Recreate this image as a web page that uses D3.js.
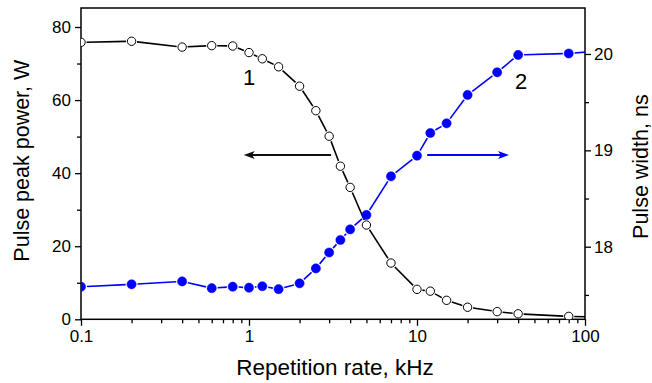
<!DOCTYPE html>
<html>
<head>
<meta charset="utf-8">
<script src="https://cdn.jsdelivr.net/npm/d3@7"></script>
<style>
  html, body { margin: 0; padding: 0; background: #fff; }
  svg { display: block; }
  text { font-family: Arial, "Liberation Sans", sans-serif; fill: #000; }
</style>
</head>
<body>
<script>
// ---- Data ----
const rate = [0.1, 0.2, 0.4, 0.6, 0.8, 1, 1.2, 1.5, 2, 2.5, 3, 3.5, 4, 5, 7, 10, 12, 15, 20, 30, 40, 80, 120];
const peakPower = [75.8, 76.1, 74.5, 74.9, 74.8, 73.0, 71.3, 69.1, 63.8, 57.1, 50.1, 41.9, 36.1, 25.8, 15.4, 8.2, 7.7, 5.2, 3.3, 2.1, 1.5, 0.8, 0.6];
const pulseWidth = [17.585, 17.61, 17.64, 17.57, 17.585, 17.575, 17.59, 17.56, 17.62, 17.775, 17.94, 18.07, 18.18, 18.33, 18.73, 18.945, 19.18, 19.28, 19.575, 19.81, 19.99, 20.005, 20.03];

const xTickValues = [0.1, 1, 10, 100];
const xTickLabels = ["0.1", "1", "10", "100"];
const yLeftTicks = [0, 20, 40, 60, 80];
const yLeftMinor = [10, 30, 50, 70];
const yRightTicks = [18, 19, 20];
const yRightLabels = ["18", "19", "20"];
const yRightMinor = [17.5, 18.5, 19.5];

const xTitle = "Repetition rate, kHz";
const yLeftTitle = "Pulse peak power, W";
const yRightTitle = "Pulse width, ns";

// ---- Layout ----
const W = 652, H = 383;
const L = 81, R = 585, T = 8, B = 319.3;

const svg = d3.select("body").append("svg").attr("width", W).attr("height", H);

const x = d3.scaleLog().domain([0.1, 100]).range([L, R]);
const yL = d3.scaleLinear().domain([0, 85.2]).range([B, T]);
const yR = d3.scaleLinear().domain([17.247, 20.477]).range([B, T]);

const font = 'Arial, "Liberation Sans", sans-serif';

// clip
svg.append("defs").append("clipPath").attr("id", "clip")
  .append("rect").attr("x", L).attr("y", T).attr("width", R - L).attr("height", B - T);

// ---- Axes ----
const minorX = [];
[0.1, 1, 10].forEach(d => { for (let k = 2; k <= 9; k++) minorX.push(d * k); });

svg.append("g").attr("transform", `translate(0,${B})`)
  .call(d3.axisBottom(x).tickValues(xTickValues).tickFormat((d, i) => xTickLabels[i]).tickSize(6.5).tickPadding(4));
svg.append("g").attr("transform", `translate(0,${B})`)
  .call(d3.axisBottom(x).tickValues(minorX).tickFormat("").tickSize(4));

svg.append("g").attr("transform", `translate(${L},0)`)
  .call(d3.axisLeft(yL).tickValues(yLeftTicks).tickSize(6).tickPadding(4));
svg.append("g").attr("transform", `translate(${L},0)`)
  .call(d3.axisLeft(yL).tickValues(yLeftMinor).tickFormat("").tickSize(4));

svg.append("g").attr("transform", `translate(${R},0)`)
  .call(d3.axisRight(yR).tickValues(yRightTicks).tickFormat((d, i) => yRightLabels[i]).tickSize(6).tickPadding(3));
svg.append("g").attr("transform", `translate(${R},0)`)
  .call(d3.axisRight(yR).tickValues(yRightMinor).tickFormat("").tickSize(4));

svg.selectAll(".domain").remove();
svg.selectAll(".tick line").attr("stroke", "#000").attr("stroke-width", 1.3);
svg.selectAll(".tick text").attr("font-family", font).attr("font-size", 17).attr("fill", "#000");

// frame
svg.append("rect").attr("x", L).attr("y", T).attr("width", R - L).attr("height", B - T)
  .attr("fill", "none").attr("stroke", "#000").attr("stroke-width", 1.5);

// ---- Series ----
const plot = svg.append("g").attr("clip-path", "url(#clip)");

function drawSeries(ys, yScale, color, r, filled) {
  const pts = rate.map((d, i) => [x(d), yScale(ys[i])]);
  const gap = r + 1.3;
  const segs = [];
  for (let i = 0; i < pts.length - 1; i++) {
    const [x1, y1] = pts[i], [x2, y2] = pts[i + 1];
    const dx = x2 - x1, dy = y2 - y1, len = Math.hypot(dx, dy);
    if (len <= 2 * gap) continue;
    const ux = dx / len, uy = dy / len;
    segs.push([x1 + ux * gap, y1 + uy * gap, x2 - ux * gap, y2 - uy * gap]);
  }
  plot.append("g").selectAll("line").data(segs).join("line")
    .attr("x1", d => d[0]).attr("y1", d => d[1]).attr("x2", d => d[2]).attr("y2", d => d[3])
    .attr("stroke", color).attr("stroke-width", 1.6);
  plot.append("g").selectAll("circle").data(pts).join("circle")
    .attr("cx", d => d[0]).attr("cy", d => d[1]).attr("r", r)
    .attr("fill", filled ? color : "#fff")
    .attr("stroke", color).attr("stroke-width", filled ? 0.5 : 1);
}
drawSeries(peakPower, yL, "#000", 4.2, false);
drawSeries(pulseWidth, yR, "#0000ff", 4.6, true);

// ---- Annotations ----
svg.append("text").attr("x", x(1.0)).attr("y", yL(64)).attr("text-anchor", "middle")
  .attr("font-size", 22).text("1");
svg.append("text").attr("x", x(41.6)).attr("y", yL(63)).attr("text-anchor", "middle")
  .attr("font-size", 22).text("2");

function arrow(xFrom, xTo, yv, color) {
  const y0 = yL(yv), a = x(xFrom), b = x(xTo);
  const dir = Math.sign(b - a);
  const headL = 11, headW = 4;
  svg.append("line").attr("x1", a).attr("y1", y0).attr("x2", b - dir * headL * 0.6).attr("y2", y0)
    .attr("stroke", color).attr("stroke-width", 2);
  svg.append("path")
    .attr("d", `M${b},${y0} L${b - dir * headL},${y0 - headW} L${b - dir * headL * 0.75},${y0} L${b - dir * headL},${y0 + headW} Z`)
    .attr("fill", color);
}
arrow(3.08, 0.93, 45, "#111");
arrow(11.5, 35.3, 45, "#0000ff");

// ---- Titles ----
svg.append("text").attr("x", (L + R) / 2 + 2).attr("y", 375).attr("text-anchor", "middle")
  .attr("font-size", 22.5).text(xTitle);
svg.append("text").attr("transform", `translate(29,${(T + B) / 2 - 3}) rotate(-90)`)
  .attr("text-anchor", "middle").attr("font-size", 21.5).text(yLeftTitle);
svg.append("text").attr("transform", `translate(648,${(T + B) / 2 + 3}) rotate(-90)`)
  .attr("text-anchor", "middle").attr("font-size", 21.5).text(yRightTitle);
</script>
</body>
</html>
